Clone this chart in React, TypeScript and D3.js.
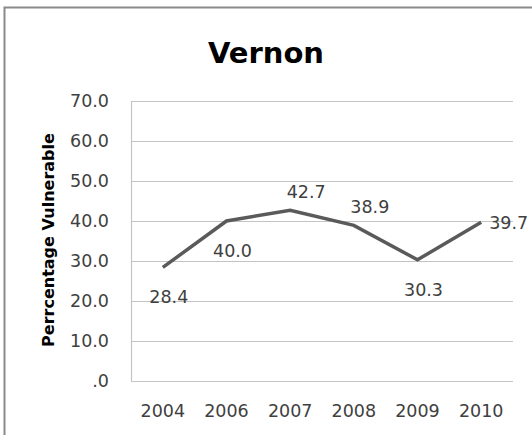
import * as React from 'react';
import * as d3 from 'd3';

const years = ['2004', '2006', '2007', '2008', '2009', '2010'];
const vulnerable = [28.4, 40.0, 42.7, 38.9, 30.3, 39.7];
const labelSpots = ['below', 'below', 'above', 'above', 'below', 'right'];
const yTicks = [0, 10, 20, 30, 40, 50, 60, 70];

const title = 'Vernon';
const yTitle = 'Perrcentage Vulnerable';

const W = 532;
const H = 435;
const font = '"DejaVu Sans", sans-serif';

const App: React.FC = () => {
    const left = 131, right = 513, top = 101, bottom = 381;

    const x = d3.scaleBand().domain(years).range([left, right]);
    const y = d3.scaleLinear().domain([0, 70]).range([bottom, top]);

    const line = d3.line<number>()
        .x((_, i) => (x(years[i]) as number) + x.bandwidth() / 2)
        .y(v => y(v));

    const fmt = (v: number) => v === 0 ? '.0' : v.toFixed(1);

    return (
        <svg width={W} height={H} style={{ position: 'absolute', left: 0, top: 0, background: '#fff' }}>
            {/* outer frame, right/bottom run off the picture */}
            <rect x={4.5} y={7.5} width={700} height={600} fill='none' stroke='#8a8a8a' strokeWidth={2} />

            <text x={266} y={63} textAnchor='middle' fontFamily={font} fontWeight='bold' fontSize={29} fill='#000'>
                {title}
            </text>

            {/* grid */}
            {yTicks.map(t => (
                <line key={t} x1={left} x2={right} y1={y(t) + 0.5} y2={y(t) + 0.5} stroke='#c4c4c4' strokeWidth={1.2} />
            ))}
            <line x1={left + 0.5} x2={left + 0.5} y1={top} y2={bottom} stroke='#c4c4c4' strokeWidth={1.2} />

            {yTicks.map(t => (
                <text key={t} x={109} y={y(t)} dy='0.36em' textAnchor='end' fontFamily={font} fontSize={17.5} fill='#404040'>
                    {fmt(t)}
                </text>
            ))}

            {years.map(yr => (
                <text key={yr} x={(x(yr) as number) + x.bandwidth() / 2} y={417} textAnchor='middle' fontFamily={font} fontSize={17.5} fill='#404040'>
                    {yr}
                </text>
            ))}

            <text transform={`translate(54,240) rotate(-90)`} textAnchor='middle' fontFamily={font} fontWeight='bold' fontSize={16} fill='#000'>
                {yTitle}
            </text>

            <path d={line(vulnerable) || ''} fill='none' stroke='#5a5a5a' strokeWidth={3.5} strokeLinejoin='miter' />

            {vulnerable.map((v, i) => {
                const cx = (x(years[i]) as number) + x.bandwidth() / 2;
                const cy = y(v);
                const spot = labelSpots[i];
                let lx = cx, ly = cy, anchor = 'middle';
                if (spot === 'below') { ly = cy + 36; lx = cx + 6; }
                else if (spot === 'above') { ly = cy - 12; lx = cx + 16; }
                else { lx = cx + 8; ly = cy + 7; anchor = 'start'; }
                return (
                    <text key={i} x={lx} y={ly} textAnchor={anchor} fontFamily={font} fontSize={17.5} fill='#404040'>
                        {v.toFixed(1)}
                    </text>
                );
            })}
        </svg>
    );
};

export default App;
